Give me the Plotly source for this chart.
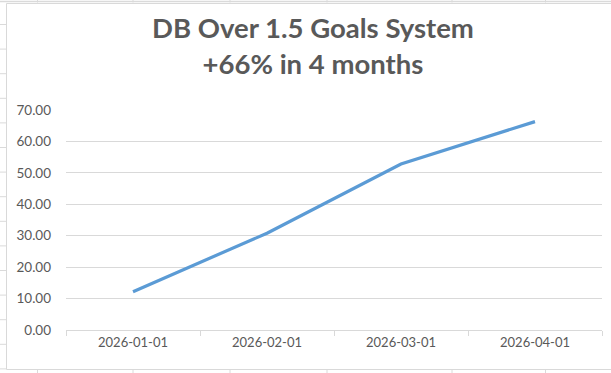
import plotly.graph_objects as go

# Data
months = ["2026-01-01", "2026-02-01", "2026-03-01", "2026-04-01"]
profit = [12.2, 30.8, 52.8, 66.3]
y_ticks = [0, 10, 20, 30, 40, 50, 60, 70]
y_tick_labels = [f"{v:.2f}" for v in y_ticks]
title_lines = ["DB Over 1.5 Goals System", "+66% in 4 months"]

W, H = 611, 373
L, R, T, B = 66, 9, 110, 43
PW, PH = W - L - R, H - T - B


def px(x):
    return (x - L) / PW


def py(y):
    return (H - B - y) / PH


grid_c = "#dadada"
shapes = []
# spreadsheet cell lines (outside the chart object)
for yy in [24.5 + 24.6 * i for i in range(15)]:
    shapes.append(dict(type="line", xref="paper", yref="paper", x0=px(0), x1=px(6),
                       y0=py(yy), y1=py(yy), line=dict(color=grid_c, width=1)))
for xx in [37.5, 133, 230, 327, 452, 545.5]:
    shapes.append(dict(type="line", xref="paper", yref="paper", x0=px(xx), x1=px(xx),
                       y0=py(0), y1=py(2.5), line=dict(color=grid_c, width=1)))
    shapes.append(dict(type="line", xref="paper", yref="paper", x0=px(xx), x1=px(xx),
                       y0=py(370), y1=py(373), line=dict(color=grid_c, width=1)))
shapes.append(dict(type="line", xref="paper", yref="paper", x0=px(0), x1=px(611),
                   y0=py(1.5), y1=py(1.5), line=dict(color=grid_c, width=1.5)))
# chart border
shapes.append(dict(type="rect", xref="paper", yref="paper", x0=px(6.5), x1=px(640),
                   y0=py(3.5), y1=py(369.5), line=dict(color="#d9d9d9", width=1),
                   fillcolor="rgba(0,0,0,0)"))

fig = go.Figure()
fig.add_trace(go.Scatter(
    x=months, y=profit, mode="lines",
    line=dict(color="#5b9bd5", width=3.2),
    hoverinfo="skip", showlegend=False,
))

fig.update_layout(
    width=W, height=H,
    margin=dict(l=L, r=R, t=T, b=B),
    paper_bgcolor="white", plot_bgcolor="white",
    title=dict(
        text="<br>".join(title_lines),
        x=313 / W, xanchor="center", xref="container",
        y=1 - 38 / H, yanchor="middle", yref="container",
        font=dict(family="Lato", size=27.5, color="#595959", weight="bold"),
    ),
    xaxis=dict(
        type="category", range=[-0.5, 3.5],
        showgrid=False, showline=True, linecolor="#d9d9d9", linewidth=1,
        ticks="outside", tickson="boundaries", ticklen=5, tickcolor="#d9d9d9",
        tickfont=dict(family="Lato", size=13, color="#595959"),
        fixedrange=True,
    ),
    yaxis=dict(
        range=[0, 70], tickvals=y_ticks, ticktext=y_tick_labels,
        showgrid=True, gridcolor="#d9d9d9", gridwidth=1,
        zeroline=False, showline=False, ticks="", ticklabelstandoff=14,
        tickfont=dict(family="Lato", size=13.5, color="#595959"),
        fixedrange=True,
    ),
    shapes=shapes,
)

fig.write_html("out.html")
